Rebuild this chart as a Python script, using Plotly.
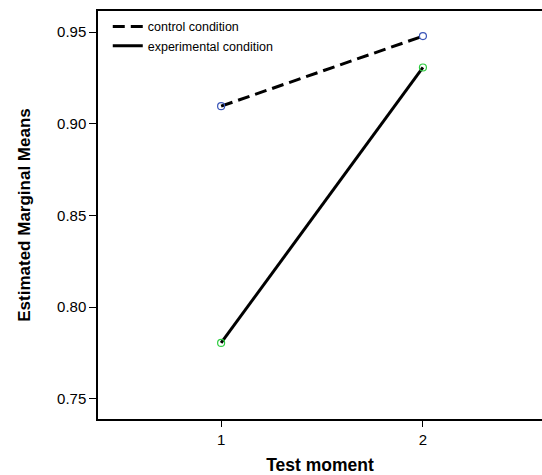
import plotly.graph_objects as go

test_moments = [1, 2]
control_means = [0.9096, 0.9478]
experimental_means = [0.7805, 0.9307]
series_names = ["control condition", "experimental condition"]
x_ticks = [1, 2]
y_ticks = [0.75, 0.80, 0.85, 0.90, 0.95]

fig = go.Figure()
fig.add_trace(go.Scatter(x=test_moments, y=control_means, mode="lines", name=series_names[0],
                         line=dict(color="black", width=3, dash="12px,6px")))
fig.add_trace(go.Scatter(x=test_moments, y=experimental_means, mode="lines", name=series_names[1],
                         line=dict(color="black", width=3)))
fig.add_trace(go.Scatter(x=test_moments, y=control_means, mode="markers", showlegend=False,
                         marker=dict(symbol="circle-open", size=7, color="#3a55b8", line=dict(width=1.2))))
fig.add_trace(go.Scatter(x=test_moments, y=experimental_means, mode="markers", showlegend=False,
                         marker=dict(symbol="circle-open", size=7, color="#2ecc40", line=dict(width=1.2))))

fig.update_layout(
    width=542, height=475,
    margin=dict(l=98, r=0, t=11, b=56),
    plot_bgcolor="white", paper_bgcolor="white",
    font=dict(family="Liberation Sans, Arial, sans-serif", color="black", size=15),
    legend=dict(x=0.022, y=0.998, xanchor="left", yanchor="top", bgcolor="rgba(0,0,0,0)",
                font=dict(size=12.5), itemwidth=30, tracegroupgap=0),
    xaxis=dict(range=[0.39, 2.59], tickvals=x_ticks, ticktext=[str(v) for v in x_ticks],
               showline=True, linecolor="black", linewidth=1.5, mirror=True,
               ticks="outside", ticklen=6, tickcolor="black", showgrid=False, zeroline=False,
               title=dict(text="<b>Test moment</b>", font=dict(size=17.5), standoff=12)),
    yaxis=dict(range=[0.739, 0.9615], tickvals=y_ticks, ticktext=[f"{v:.2f}" for v in y_ticks],
               showline=True, linecolor="black", linewidth=1.5,
               ticks="outside", ticklen=7, tickcolor="black", showgrid=False, zeroline=False,
               title=dict(text="<b>Estimated Marginal Means</b>", font=dict(size=17), standoff=22)),
)

fig.write_html("out.html", config={"displayModeBar": False},
               post_script="document.body.style.margin='0';document.body.style.overflow='hidden';")
